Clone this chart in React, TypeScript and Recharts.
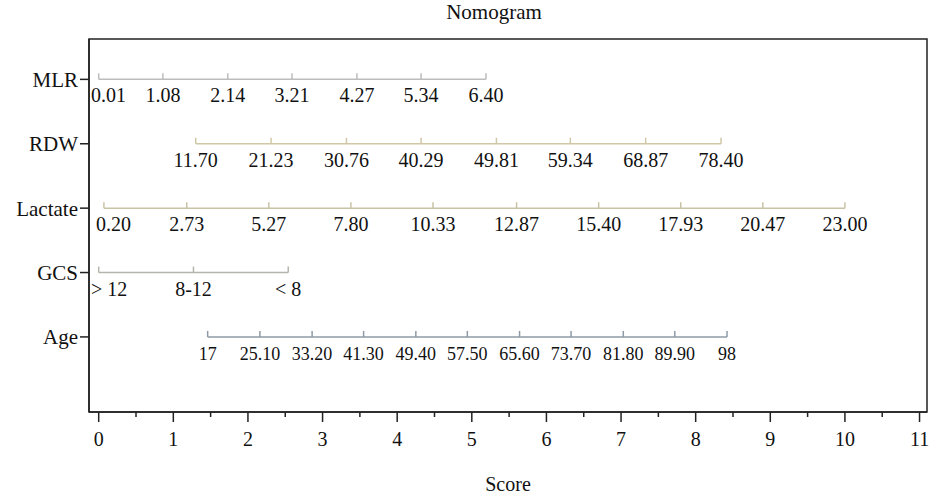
import { ScatterChart, Scatter, XAxis, YAxis, ReferenceArea } from 'recharts'

const FONT = '"Liberation Serif", "DejaVu Serif", serif'
const PLOT_LEFT = 89

// rows, top to bottom
const rowNames = ['MLR', 'RDW', 'Lactate', 'GCS', 'Age']
const rowLevels = [5, 4, 3, 2, 1]

// tick labels of each predictor and the score each one sits on
const mlrLabels = ['0.01', '1.08', '2.14', '3.21', '4.27', '5.34', '6.40']
const mlrScores = [0, 0.86, 1.73, 2.59, 3.46, 4.32, 5.19]

const rdwLabels = ['11.70', '21.23', '30.76', '40.29', '49.81', '59.34', '68.87', '78.40']
const rdwScores = [1.3, 2.31, 3.32, 4.32, 5.33, 6.32, 7.33, 8.34]

const lactateLabels = ['0.20', '2.73', '5.27', '7.80', '10.33', '12.87', '15.40', '17.93', '20.47', '23.00']
const lactateScores = [0.07, 1.18, 2.28, 3.38, 4.48, 5.6, 6.7, 7.8, 8.9, 10.0]

const gcsLabels = ['> 12', '8-12', '< 8']
const gcsScores = [0, 1.27, 2.54]

const ageLabels = ['17', '25.10', '33.20', '41.30', '49.40', '57.50', '65.60', '73.70', '81.80', '89.90', '98']
const ageScores = [1.46, 2.16, 2.86, 3.55, 4.25, 4.94, 5.64, 6.33, 7.03, 7.72, 8.42]

const scoreTicks = [0, 0.5, 1, 1.5, 2, 2.5, 3, 3.5, 4, 4.5, 5, 5.5, 6, 6.5, 7, 7.5, 8, 8.5, 9, 9.5, 10, 10.5, 11]

const rowColors: Record<string, string> = {
  MLR: '#bdbdbd',
  RDW: '#cfc7a6',
  Lactate: '#c9c3a5',
  GCS: '#b5b5ad',
  Age: '#8e9ba6',
}
const rowFontSize: Record<string, number> = { MLR: 20, RDW: 20, Lactate: 20, GCS: 20, Age: 18 }

const toPoints = (labels: string[], scores: number[], level: number) =>
  labels.map((label, i) => ({ x: scores[i], y: level, label }))

const rows = [
  { name: 'MLR', data: toPoints(mlrLabels, mlrScores, rowLevels[0]) },
  { name: 'RDW', data: toPoints(rdwLabels, rdwScores, rowLevels[1]) },
  { name: 'Lactate', data: toPoints(lactateLabels, lactateScores, rowLevels[2]) },
  { name: 'GCS', data: toPoints(gcsLabels, gcsScores, rowLevels[3]) },
  { name: 'Age', data: toPoints(ageLabels, ageScores, rowLevels[4]) },
]

const textWidth = (s: string, size: number) =>
  s.split('').reduce((w, c) => w + (c === '.' ? 0.25 : c === ' ' ? 0.25 : c === '-' ? 0.33 : 0.5), 0) * size

const makeShape = (color: string, fontSize: number) => (props: any) => {
  const { cx, cy, payload } = props
  const w = textWidth(payload.label, fontSize)
  let anchor: 'middle' | 'start' = 'middle'
  let tx = cx
  // labels at the left edge are pushed right so they clear the axis
  if (cx - w / 2 < PLOT_LEFT + 2) {
    anchor = 'start'
    tx = Math.max(PLOT_LEFT + 2, cx - 8)
  }
  return (
    <g>
      <line x1={cx} x2={cx} y1={cy} y2={cy - 6} stroke={color} strokeWidth={1.5} />
      <text x={tx} y={cy + 23} textAnchor={anchor} fontSize={fontSize} fontFamily={FONT} fill="#111">
        {payload.label}
      </text>
    </g>
  )
}

const ScoreTick = (props: any) => {
  const { x, y, payload } = props
  const axisY = y - 10
  const major = Number.isInteger(payload.value)
  return (
    <g>
      <line x1={x} x2={x} y1={axisY} y2={axisY + (major ? 10 : 5)} stroke="#222" strokeWidth={1.5} />
      {major && (
        <text x={x} y={axisY + 34} textAnchor="middle" fontSize={20} fontFamily={FONT} fill="#111">
          {payload.value}
        </text>
      )}
    </g>
  )
}

const nameOf = (v: number) => rowNames[rowLevels.indexOf(v)] ?? ''

export default function App() {
  return (
    <div style={{ position: 'absolute', left: 0, top: 0 }}>
      <ScatterChart width={932} height={495} margin={{ top: 39, right: 5, left: 9, bottom: 0 }}>
        <XAxis
          type="number"
          dataKey="x"
          domain={[-0.13, 11.1]}
          ticks={scoreTicks}
          interval={0}
          allowDataOverflow
          height={83}
          tickSize={10}
          tickMargin={0}
          tickLine={false}
          tick={<ScoreTick />}
          axisLine={{ stroke: '#222', strokeWidth: 1.5 }}
          label={{
            content: ({ viewBox }: any) => (
              <text
                x={viewBox.x + viewBox.width / 2}
                y={viewBox.y + 79}
                textAnchor="middle"
                fontSize={20}
                fontFamily={FONT}
                fill="#111"
              >
                Score
              </text>
            ),
          }}
        />
        <YAxis
          type="number"
          dataKey="y"
          domain={[-0.166, 5.627]}
          ticks={rowLevels}
          interval={0}
          allowDataOverflow
          width={80}
          tickSize={9}
          tickMargin={2}
          tickFormatter={nameOf}
          tick={{ fontSize: 21, fontFamily: FONT, fill: '#111' }}
          tickLine={{ stroke: '#222', strokeWidth: 1.5 }}
          axisLine={{ stroke: '#222', strokeWidth: 1.5 }}
        />
        <ReferenceArea
          x1={-0.13}
          x2={11.1}
          y1={-0.166}
          y2={5.627}
          fill="none"
          stroke="#222"
          strokeWidth={1.5}
          label={{
            content: ({ viewBox }: any) => (
              <text
                x={viewBox.x + viewBox.width / 2 - 14}
                y={viewBox.y - 20}
                textAnchor="middle"
                fontSize={21}
                fontFamily={FONT}
                fill="#111"
              >
                Nomogram
              </text>
            ),
          }}
        />
        {rows.map(row => (
          <Scatter
            key={row.name}
            name={row.name}
            data={row.data}
            line={{ stroke: rowColors[row.name], strokeWidth: 1.5 }}
            shape={makeShape(rowColors[row.name], rowFontSize[row.name])}
            isAnimationActive={false}
          />
        ))}
      </ScatterChart>
    </div>
  )
}
